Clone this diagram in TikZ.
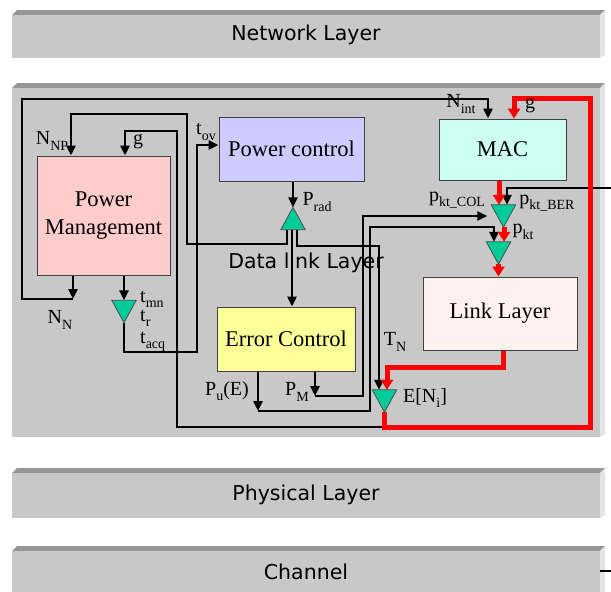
\documentclass[tikz,border=0pt]{standalone}
\usepackage{fontspec}
\setmainfont{Liberation Serif}
\newfontfamily\comicfont{DejaVu Sans}
\usetikzlibrary{arrows.meta}
\definecolor{bargray}{RGB}{200,200,200}
\definecolor{bartop}{RGB}{150,150,150}
\definecolor{barside}{RGB}{228,228,228}
\definecolor{pmfill}{RGB}{255,204,204}
\definecolor{pcfill}{RGB}{204,204,255}
\definecolor{macfill}{RGB}{204,255,242}
\definecolor{ecfill}{RGB}{255,255,153}
\definecolor{llfill}{RGB}{255,242,238}
\definecolor{trigreen}{RGB}{0,204,153}
\newcommand\sbs[1]{\raisebox{-0.28em}{\fontsize{14}{14}\selectfont #1}}
\begin{document}
\begin{tikzpicture}[x=1pt,y=-1pt,
 box/.style={draw=black!75, line width=1pt, inner sep=0pt, align=center, font=\fontsize{22.5}{28}\selectfont},
 tri/.style={inner sep=0pt, minimum width=24pt, minimum height=22pt},
 trishape/.style={fill=trigreen, draw=black!70, line width=0.8pt, line join=miter},
 wire/.style={line width=2.8pt, line join=miter},
 arr/.style={-{Triangle[length=10pt,width=9pt]}},
 redwire/.style={draw=red, line width=5pt, line join=miter},
 rarr/.style={-{Triangle[length=10pt,width=12pt]}},
 lbl/.style={inner sep=0pt, font=\fontsize{20}{20}\selectfont},
 layertxt/.style={font=\comicfont\fontsize{20.5}{20.5}\selectfont, inner sep=0pt}]
\useasboundingbox (0,0) rectangle (611,592);
% layer bars
\foreach \t/\b in {10/58,83/437,468/518,546/600}{
  \fill[bartop] (12,\t+5) -- (17,\t) -- (605,\t) -- (600,\t+5) -- cycle;
  \fill[barside] (600,\t+5) -- (605,\t) -- (605,\b-3) -- (600,\b) -- cycle;
  \fill[bargray] (12,\t+5) rectangle (600,\b);
}
\node[layertxt] (netL) at (306,35) {Network Layer};
\node[layertxt] (dll) at (306,263) {Data link Layer};
\node[layertxt] (phy) at (306,495) {Physical Layer};
\node[layertxt] (chn) at (306,572) {Channel};
% blocks
\node[box, fill=pmfill, minimum width=133pt, minimum height=119pt] (PM) at (103.5,215.5) {\raisebox{-3pt}{\parbox{130pt}{\centering Power\\Management}}};
\node[box, fill=pcfill, minimum width=145pt, minimum height=64pt] (PC) at (291.5,149) {Power control};
\node[box, fill=macfill, minimum width=127pt, minimum height=61pt] (MAC) at (502.5,149.5) {MAC};
\node[box, fill=ecfill, minimum width=138pt, minimum height=64pt] (EC) at (286,339) {Error Control};
\node[box, fill=llfill, minimum width=154pt, minimum height=73pt] (LL) at (500,313.5) {Link Layer};
% triangle nodes
\node[tri] (tP) at (293,218.5) {};
\node[tri] (tT) at (124,311.5) {};
\node[tri] (tC) at (503.5,216) {};
\node[tri] (tK) at (498.5,253) {};
\node[tri] (tE) at (384.5,401) {};
% bend points
\coordinate (nn) at (73,299);
\coordinate (cTL) at (22,99);
\coordinate (ni) at (488,99);
\coordinate (np1) at (287,244);
\coordinate (np2) at (187,114);
\coordinate (np3) at (71,114);
\coordinate (xPE) at (292,280);
\coordinate (tn1) at (297,246);
\coordinate (tn2) at (379,246);
\coordinate (tv2) at (197,352);
\coordinate (tv3) at (197,145);
\coordinate (gb) at (384.5,427);
\coordinate (g2) at (177,131);
\coordinate (g3) at (125,131);
\coordinate (pm1) at (315,396);
\coordinate (pm3) at (363,216);
\coordinate (pu1) at (258,411);
\coordinate (pu3) at (370,227);
\coordinate (pu4) at (494,227);
\coordinate (ber) at (611,188);
\coordinate (b2) at (507,188);
\coordinate (r1) at (499,0);
\coordinate (r2) at (504,0);
\coordinate (ll1) at (503,367);
\coordinate (ll2) at (387,367);
\coordinate (rb) at (590,427);
\coordinate (rt) at (514,98);
\coordinate (chd) at (600,571);
\coordinate (chd2) at (611,571);
% black wires
\draw[wire,arr] (PM.south -| nn) -- (nn);
\draw[wire,arr] (nn) -| (cTL) -- (ni) -- (MAC.north -| ni);
\draw[wire,arr] (tP.south -| np1) -- (np1) -| (np2) -- (np3) -- (PM.north -| np3);
\draw[wire,arr] (tP.south -| xPE) -- (EC.north -| xPE);
\draw[wire,arr] (tP.south -| tn1) -- (tn1) -- (tn2) -- (tE.north -| tn2);
\draw[wire,arr] (PC.south -| tP.north) -- (tP.north);
\draw[wire,arr] (PM.south -| tT.north) -- (tT.north);
\draw[wire,arr] (tT.south) |- (tv2) -- (tv3) -- (PC.west |- tv3);
\draw[wire,arr] (tE.south) -- (gb) -| (g2) -- (g3) -- (PM.north -| g3);
\draw[wire,arr] (EC.south -| pm1) -- (pm1);
\draw[wire,arr,shorten >=4pt] (pm1) -| (pm3) -- (tC.west);
\draw[wire,arr] (EC.south -| pu1) -- (pu1);
\draw[wire,arr] (pu1) -| (pu3) -- (pu4) -- (tK.north -| pu4);
\draw[wire,arr] (ber) -- (b2) -- (tC.north -| b2);
\draw[wire] (chd) -- (chd2);
% red wires
\draw[redwire,rarr] (MAC.south -| r1) -- (tC.north -| r1);
\draw[redwire,rarr] (tC.south -| r2) -- (tK.north -| r2);
\draw[redwire,rarr] (tK.south) -- (LL.north -| tK.south);
\draw[redwire,rarr] (LL.south -| ll1) -- (ll1) -- (ll2) -- (tE.north -| ll2);
\draw[redwire,rarr] (tE.south) -- (gb) -- (rb) |- (rt) -- (MAC.north -| rt);
% triangles
\foreach \n in {tT,tC,tK,tE}
  \filldraw[trishape] (\n.north west) -- (\n.north east) -- (\n.south) -- cycle;
\filldraw[trishape] (tP.south west) -- (tP.south east) -- (tP.north) -- cycle;
% labels
\node[lbl] (lNNP) at (52,141) {N\sbs{NP}};
\node[lbl] (lg1) at (138,142) {g};
\node[lbl] (ltov) at (206,132) {t\sbs{ov}};
\node[lbl] (lprad) at (317,202) {P\sbs{rad}};
\node[lbl] (lnint) at (461,104) {N\sbs{int}};
\node[lbl] (lg2) at (530,106) {g};
\node[lbl] (lcol) at (457,200) {p\sbs{kt\_COL}};
\node[lbl] (lber) at (547,203) {p\sbs{kt\_BER}};
\node[lbl] (lpkt) at (523,232) {p\sbs{kt}};
\node[lbl,anchor=base west] (ltmn) at (140,302) {t\sbs{mn}};
\node[lbl,anchor=base west] (ltr) at (140,321) {t\sbs{r}};
\node[lbl,anchor=base west] (ltacq) at (140,343) {t\sbs{acq}};
\node[lbl] (lNN) at (60,320) {N\sbs{N}};
\node[lbl] (lpu) at (227,391) {P\sbs{u}(E)};
\node[lbl] (lpm) at (297,392) {P\sbs{M}};
\node[lbl] (ltn) at (395,342) {T\sbs{N}};
\node[lbl] (len) at (425,398) {E[N\sbs{i}]};
\end{tikzpicture}
\end{document}
